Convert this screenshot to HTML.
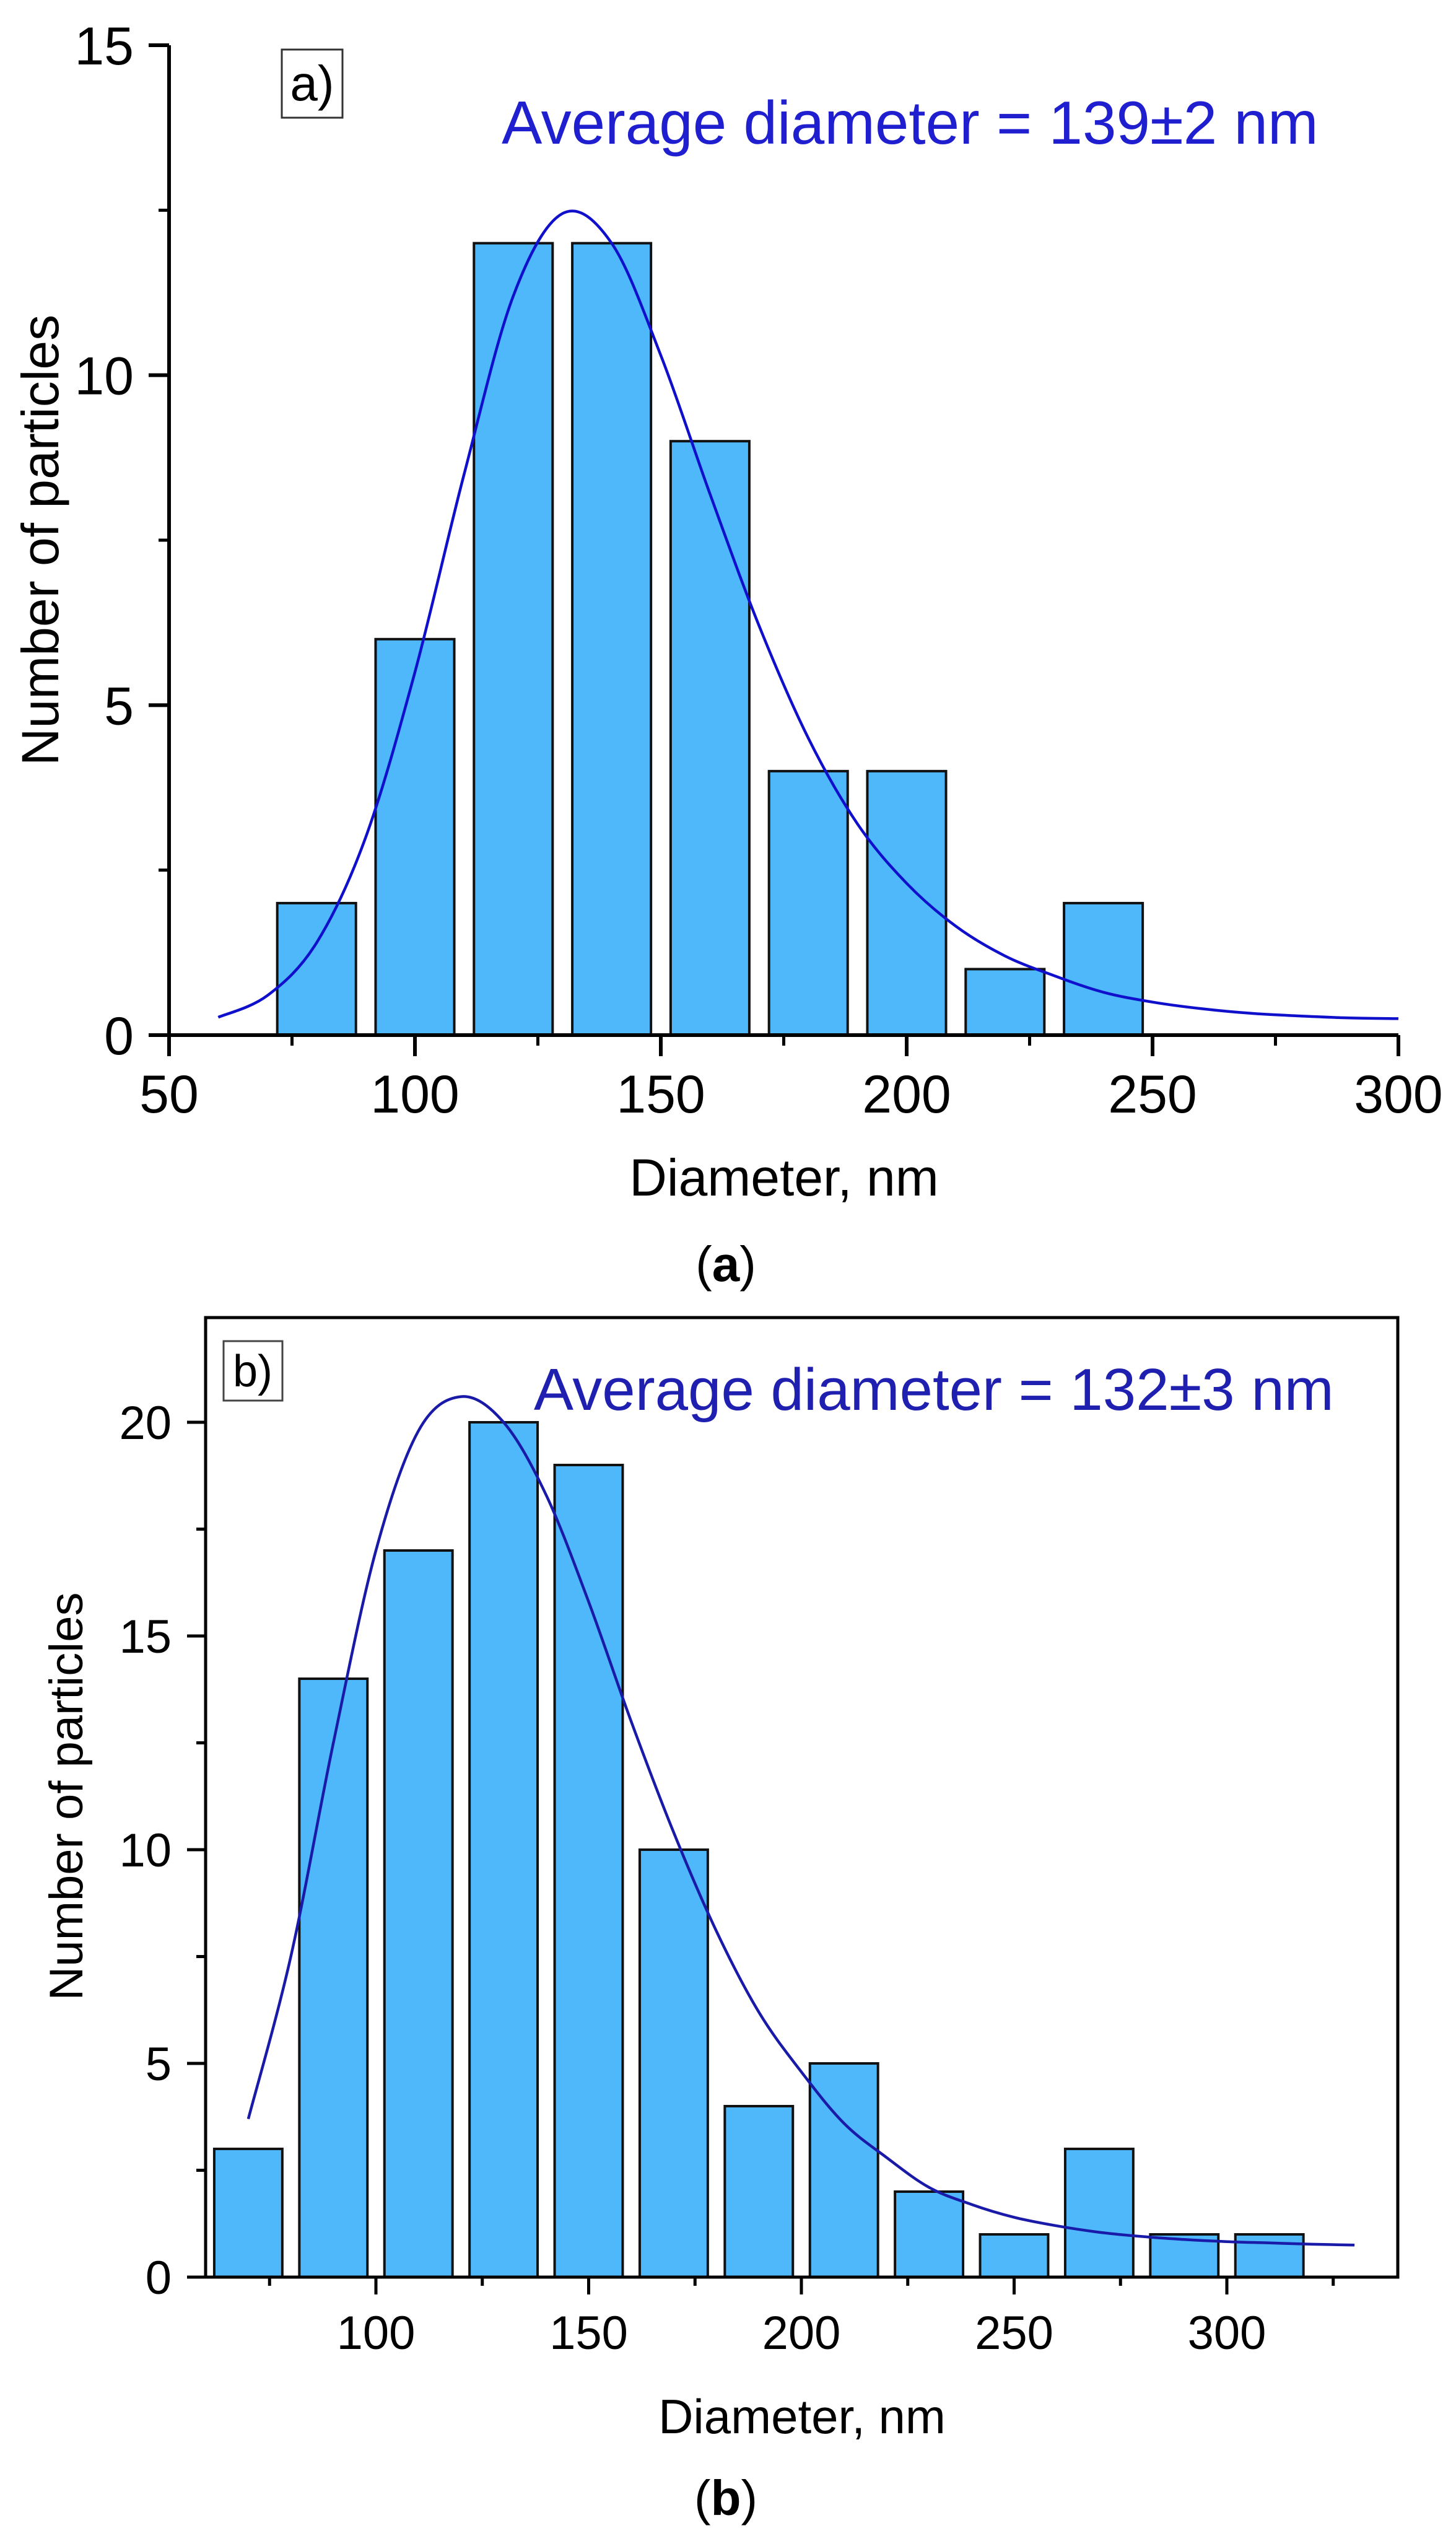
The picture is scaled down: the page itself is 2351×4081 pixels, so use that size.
<!DOCTYPE html>
<html><head><meta charset="utf-8"><title>Particle size histograms</title>
<style>
html,body{margin:0;padding:0;background:#fff;}
svg{display:block;}
text{font-family:"Liberation Sans",Arial,sans-serif;}
</style></head>
<body>
<svg id="fig" xmlns="http://www.w3.org/2000/svg" width="2351" height="4081" viewBox="0 0 2351 4081">
  <rect x="0" y="0" width="2351" height="4081" fill="#fff"/>
  <g id="chartA"></g>
  <g id="chartB"></g>
  <text x="1172" y="2068" text-anchor="middle" font-family="Liberation Serif, serif" font-size="80">(<tspan font-weight="bold">a</tspan>)</text>
  <text x="1172" y="4060" text-anchor="middle" font-family="Liberation Serif, serif" font-size="80">(<tspan font-weight="bold">b</tspan>)</text>
</svg>
<script>
// ---------- Chart A data ----------
const aBinCenters = [80,100,120,140,160,180,200,220,240];
const aCounts = [2,6,12,12,9,4,4,1,2];
const aFitX = [60,70,80,90,100,110,120,130,140,150,160,170,180,190,200,210,220,230,240,250,260,270,280,290,300];
const aFitY = [0.27,0.6,1.4,3.0,5.5,8.5,11.2,12.45,12.0,10.3,8.2,6.2,4.5,3.2,2.3,1.65,1.2,0.9,0.65,0.5,0.4,0.33,0.29,0.26,0.25];
const aXTicks = [50,100,150,200,250,300];
const aXMinor = [75,125,175,225,275];
const aYTicks = [0,5,10,15];
const aYMinor = [2.5,7.5,12.5];

// ---------- Chart B data ----------
const bBinCenters = [70,90,110,130,150,170,190,210,230,250,270,290,310];
const bCounts = [3,14,17,20,19,10,4,5,2,1,3,1,1];
const bFitX = [70,80,90,100,110,120,130,140,150,160,170,180,190,200,210,220,230,240,250,260,270,280,290,300,310,320,330];
const bFitY = [3.7,7.5,12.5,17,19.8,20.6,20.0,18.3,15.8,13.0,10.4,8.1,6.2,4.8,3.6,2.8,2.1,1.7,1.4,1.2,1.05,0.95,0.88,0.83,0.8,0.77,0.75];
const bXTicks = [100,150,200,250,300];
const bXMinor = [75,125,175,225,275,325];
const bYTicks = [0,5,10,15,20];
const bYMinor = [2.5,7.5,12.5,17.5];

const NS = "http://www.w3.org/2000/svg";
function mk(parent, tag, attrs){
  const e = document.createElementNS(NS, tag);
  for (const k in attrs) e.setAttribute(k, attrs[k]);
  parent.appendChild(e);
  return e;
}
function smoothPath(pts){
  let d = 'M' + pts[0][0].toFixed(1) + ',' + pts[0][1].toFixed(1);
  for (let i = 0; i < pts.length - 1; i++){
    const p0 = pts[Math.max(0,i-1)], p1 = pts[i], p2 = pts[i+1], p3 = pts[Math.min(pts.length-1,i+2)];
    const c1x = p1[0] + (p2[0]-p0[0])/6, c1y = p1[1] + (p2[1]-p0[1])/6;
    const c2x = p2[0] - (p3[0]-p1[0])/6, c2y = p2[1] - (p3[1]-p1[1])/6;
    d += ' C' + c1x.toFixed(1) + ',' + c1y.toFixed(1) + ' ' + c2x.toFixed(1) + ',' + c2y.toFixed(1) + ' ' + p2[0].toFixed(1) + ',' + p2[1].toFixed(1);
  }
  return d;
}

// ---------- Chart A ----------
(function(){
  const g = document.getElementById('chartA');
  const x = v => 273 + (v-50)*(2258-273)/250;
  const y = v => 1671 - v*(1671-73)/15;
  const bw = 16;
  aBinCenters.forEach((c,i)=>{
    const r = mk(g,'rect',{x:x(c-bw/2),y:y(aCounts[i]),width:x(c+bw/2)-x(c-bw/2),height:y(0)-y(aCounts[i]),fill:'#4fb8fb',stroke:'#111',"stroke-width":4});
    
    
  });
  const d = smoothPath(aFitX.map((v,i)=>[x(v), y(aFitY[i])]));
  const p = mk(g,'path',{d:d,fill:'none',stroke:'#1010cc',"stroke-width":4.5,"stroke-linejoin":"round"});
  
  
  const ax = mk(g,'line',{x1:273,y1:y(0),x2:2258,y2:y(0),stroke:'#000',"stroke-width":6});
  
  
  const ay = mk(g,'line',{x1:273,y1:y(0)+3,x2:273,y2:y(15),stroke:'#000',"stroke-width":6});
  
  
  aXTicks.forEach(v=>{
    mk(g,'line',{x1:x(v),y1:y(0),x2:x(v),y2:y(0)+34,stroke:'#000',"stroke-width":6});
    const t = mk(g,'text',{x:x(v),y:1796,"text-anchor":"middle","font-size":86,fill:'#000'});
    t.textContent = v;
    
    
  });
  aXMinor.forEach(v=>mk(g,'line',{x1:x(v),y1:y(0),x2:x(v),y2:y(0)+17,stroke:'#000',"stroke-width":5}));
  aYTicks.forEach(v=>{
    mk(g,'line',{x1:273,y1:y(v),x2:240,y2:y(v),stroke:'#000',"stroke-width":6});
    const t = mk(g,'text',{x:216,y:y(v)+31,"text-anchor":"end","font-size":86,fill:'#000'});
    t.textContent = v;
    
    
  });
  aYMinor.forEach(v=>mk(g,'line',{x1:273,y1:y(v),x2:256,y2:y(v),stroke:'#000',"stroke-width":5}));
  const xt = mk(g,'text',{x:1266,y:1930,"text-anchor":"middle","font-size":84,fill:'#000'});
  xt.textContent = 'Diameter, nm';
  
  
  const yt = mk(g,'text',{x:0,y:0,"text-anchor":"middle","font-size":84,fill:'#000',transform:'translate(94,872) rotate(-90)'});
  yt.textContent = 'Number of particles';
  
  
  const bx = mk(g,'rect',{x:455,y:80,width:98,height:110,fill:'#fff',stroke:'#333',"stroke-width":3});
  
  
  const bl = mk(g,'text',{x:504,y:162,"text-anchor":"middle","font-size":80,fill:'#000'});
  bl.textContent = 'a)';
  
  
  const an = mk(g,'text',{x:810,y:232,"font-size":98,fill:'#1f1fd0'});
  an.textContent = 'Average diameter = 139\u00B12 nm';
  
  
})();

// ---------- Chart B ----------
(function(){
  const g = document.getElementById('chartB');
  const x = v => 607 + (v-100)*(1981-607)/200;
  const y = v => 3676 - v*(3676-2296)/20;
  const L = 332, R = 2257, T = 2127, B = 3676;
  const bw = 16;
  bBinCenters.forEach((c,i)=>{
    const r = mk(g,'rect',{x:x(c-bw/2),y:y(bCounts[i]),width:x(c+bw/2)-x(c-bw/2),height:y(0)-y(bCounts[i]),fill:'#4fb8fb',stroke:'#111',"stroke-width":4});
    
    
  });
  const d = smoothPath(bFitX.map((v,i)=>[x(v), y(bFitY[i])]));
  const p = mk(g,'path',{d:d,fill:'none',stroke:'#1a1aa8',"stroke-width":4.5,"stroke-linejoin":"round"});
  
  
  const fr = mk(g,'rect',{x:L,y:T,width:R-L,height:B-T,fill:'none',stroke:'#000',"stroke-width":5});
  
  
  bXTicks.forEach(v=>{
    mk(g,'line',{x1:x(v),y1:B,x2:x(v),y2:B+28,stroke:'#000',"stroke-width":5});
    const t = mk(g,'text',{x:x(v),y:3792,"text-anchor":"middle","font-size":76,fill:'#000'});
    t.textContent = v;
    
    
  });
  bXMinor.forEach(v=>mk(g,'line',{x1:x(v),y1:B,x2:x(v),y2:B+14,stroke:'#000',"stroke-width":5}));
  bYTicks.forEach(v=>{
    mk(g,'line',{x1:L,y1:y(v),x2:L-30,y2:y(v),stroke:'#000',"stroke-width":5});
    const t = mk(g,'text',{x:277,y:y(v)+27,"text-anchor":"end","font-size":76,fill:'#000'});
    t.textContent = v;
    
    
  });
  bYMinor.forEach(v=>mk(g,'line',{x1:L,y1:y(v),x2:L-15,y2:y(v),stroke:'#000',"stroke-width":5}));
  const xt = mk(g,'text',{x:1295,y:3928,"text-anchor":"middle","font-size":78,fill:'#000'});
  xt.textContent = 'Diameter, nm';
  
  
  const yt = mk(g,'text',{x:0,y:0,"text-anchor":"middle","font-size":76,fill:'#000',transform:'translate(133,2900) rotate(-90)'});
  yt.textContent = 'Number of particles';
  
  
  const bx = mk(g,'rect',{x:361,y:2165,width:95,height:96,fill:'#fff',stroke:'#444',"stroke-width":3});
  
  
  const bl = mk(g,'text',{x:408,y:2238,"text-anchor":"middle","font-size":72,fill:'#000'});
  bl.textContent = 'b)';
  
  
  const an = mk(g,'text',{x:862,y:2276,"font-size":96,fill:'#2020b0'});
  an.textContent = 'Average diameter = 132\u00B13 nm';
  
  
})();
</script>
</body></html>
